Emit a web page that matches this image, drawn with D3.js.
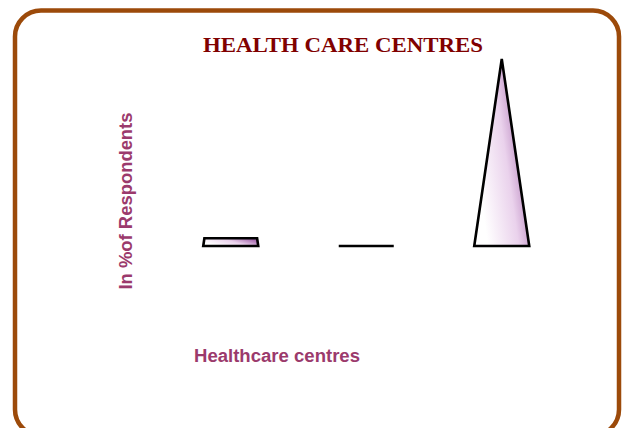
<!DOCTYPE html>
<html>
<head>
<meta charset="utf-8">
<script src="https://cdn.jsdelivr.net/npm/d3@7"></script>
<style>
  body { margin: 0; background: #fff; }
  svg { display: block; }
</style>
</head>
<body>
<svg width="622" height="428"></svg>
<script>
'use strict';

// chart data
var categories = ['Centre 1', 'Centre 2', 'Centre 3'];
var respondents = [4, 0, 96];   // in % of respondents

var titleText = 'HEALTH CARE CENTRES';
var xTitle = 'Healthcare centres';
var yTitle = 'In %of Respondents';

var svg = d3.select('svg');

// gradient used for the pyramids
var defs = svg.append('defs');
var grad = defs.append('linearGradient')
  .attr('id', 'pyr')
  .attr('x1', 0).attr('y1', 0.75)
  .attr('x2', 1).attr('y2', 0.25);
grad.append('stop').attr('offset', 0.1).attr('stop-color', '#ffffff');
grad.append('stop').attr('offset', 0.55).attr('stop-color', '#ead2ec');
grad.append('stop').attr('offset', 1).attr('stop-color', '#9c5aa4');

// frame
svg.append('rect')
  .attr('x', 15).attr('y', 10.5)
  .attr('width', 604).attr('height', 425)
  .attr('rx', 26).attr('ry', 26)
  .attr('fill', 'none')
  .attr('stroke', '#9c4a0a')
  .attr('stroke-width', 4.5);

var x = d3.scaleBand()
  .domain(categories)
  .range([163, 569.5])
  .paddingInner(0.594)
  .paddingOuter(0.297);

var y = d3.scaleLinear()
  .domain([0, d3.max(respondents)])
  .range([246, 59]);

// pyramid truncated at its value, full pyramid reaches the axis max
function pyramid(d, i){
  var x0 = x(categories[i]);
  var bw = x.bandwidth();
  var cx = x0 + bw / 2;
  var hw = bw / 2 * (1 - d / y.domain()[1]);
  var pts = [
    [x0, y(0)],
    [x0 + bw, y(0)],
    [cx + hw, y(d)],
    [cx - hw, y(d)]
  ];
  return 'M' + pts.join('L') + 'Z';
}

svg.selectAll('path.bar')
  .data(respondents)
  .enter()
  .append('path')
  .attr('class', 'bar')
  .attr('d', pyramid)
  .attr('fill', 'url(#pyr)')
  .attr('stroke', '#000')
  .attr('stroke-width', 2.6)
  .attr('stroke-linejoin', 'miter');

// title
svg.append('text')
  .attr('x', 343).attr('y', 52)
  .attr('text-anchor', 'middle')
  .attr('font-family', '"Liberation Serif", serif')
  .attr('font-weight', 'bold')
  .attr('font-size', 22)
  .attr('textLength', 280)
  .attr('lengthAdjust', 'spacingAndGlyphs')
  .attr('fill', '#800000')
  .text(titleText);

// axis titles
svg.append('text')
  .attr('x', 277).attr('y', 362)
  .attr('text-anchor', 'middle')
  .attr('font-family', '"Liberation Sans", Arial, sans-serif')
  .attr('font-weight', 'bold')
  .attr('font-size', 17.5)
  .attr('textLength', 166)
  .attr('lengthAdjust', 'spacingAndGlyphs')
  .attr('fill', '#9b3a6c')
  .text(xTitle);

svg.append('text')
  .attr('transform', 'translate(132,201) rotate(-90)')
  .attr('text-anchor', 'middle')
  .attr('font-family', '"Liberation Sans", Arial, sans-serif')
  .attr('font-weight', 'bold')
  .attr('font-size', 17.5)
  .attr('textLength', 177)
  .attr('lengthAdjust', 'spacingAndGlyphs')
  .attr('fill', '#9b3a6c')
  .text(yTitle);
</script>
</body>
</html>
